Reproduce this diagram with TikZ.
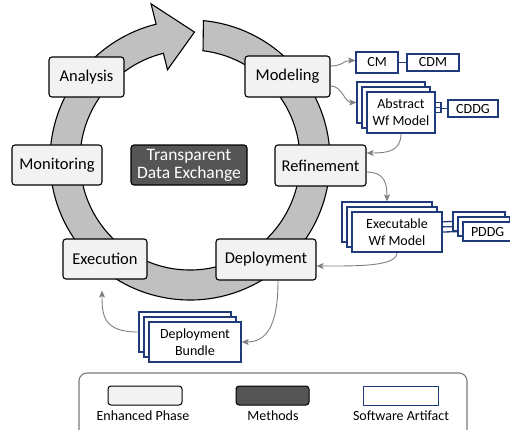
\documentclass[tikz,border=0pt]{standalone}
\usepackage{fontspec}
\setmainfont{Carlito}
\usetikzlibrary{arrows.meta,calc}
\pgfdeclarelayer{ringlayer}
\pgfdeclarelayer{connlayer}
\pgfsetlayers{ringlayer,connlayer,main}
\definecolor{phasefill}{HTML}{F2F2F2}
\definecolor{methodfill}{HTML}{555555}
\definecolor{ringfill}{HTML}{C0C0C0}
\definecolor{navy}{HTML}{1F3B7A}
\definecolor{conngray}{HTML}{808080}
\definecolor{leggray}{HTML}{7A7A7A}
\tikzset{
  phase/.style={draw=black, line width=1.1pt, fill=phasefill, rounded corners=3pt,
    inner sep=0pt, align=center, font=\fontsize{16.5}{18}\selectfont},
  method/.style={phase, fill=methodfill, text=white, font=\fontsize{17.5}{18}\selectfont},
  art/.style={draw=navy, line width=1.3pt, fill=white, inner sep=0pt, align=center,
    font=\fontsize{14}{17}\selectfont},
  artline/.style={draw=navy, line width=1.3pt},
  conn/.style={draw=conngray, line width=0.9pt, -{Stealth[length=7pt,width=6pt,inset=1.5pt]}},
  legtext/.style={font=\fontsize{14}{16}\selectfont, inner sep=0pt}
}
\begin{document}
\begin{tikzpicture}[x=1pt,y=1pt]
\useasboundingbox (0,0) rectangle (510,-429);
\clip (0,0) rectangle (510,-429);

% ring arrow
\begin{pgfonlayer}{ringlayer}
\begin{scope}[shift={(190,-160)}]
\draw[fill=ringfill, line width=1.1pt, line join=miter]
  (84.5:140) arc[start angle=84.5, end angle=-256, radius=140]
  -- (-256:161) -- (88:128) -- (-256:93) -- (-256:110)
  arc[start angle=-256, end angle=83.2, radius=110] -- cycle;
\end{scope}
\end{pgfonlayer}

% phases
\node[phase, minimum width=75pt, minimum height=40pt] (analysis) at (86.5,-77) {Analysis};
\node[phase, minimum width=85pt, minimum height=41pt] (model) at (287.5,-76.5) {Modeling};
\node[phase, minimum width=90pt, minimum height=40pt] (monitor) at (57,-165) {Monitoring};
\node[method, minimum width=116pt, minimum height=40pt] (tde) at (189,-165) {Transparent\\Data Exchange};
\node[phase, minimum width=91pt, minimum height=41pt] (refine) at (320.5,-165.5) {Refinement};
\node[phase, minimum width=84pt, minimum height=40pt] (exec) at (105,-259) {Execution};
\node[phase, minimum width=100pt, minimum height=41pt] (deploy) at (266,-259.5) {Deployment};

% artifacts
\node[art, minimum width=42pt, minimum height=21pt] (cm) at (377,-62.5) {CM};
\node[art, minimum width=52pt, minimum height=17pt] (cdm) at (433,-62.5) {CDM};

\node[art, minimum width=68pt, minimum height=41pt] (absB) at (391,-102.5) {};
\node[art, minimum width=68pt, minimum height=41pt] (absM) at (396,-107.5) {};
\node[art, minimum width=68pt, minimum height=41pt] (absF) at (401,-112.5) {Abstract\\Wf Model};
\node[art, minimum width=50pt, minimum height=17pt] (cddg) at (473,-108.5) {CDDG};

\node[art, minimum width=90pt, minimum height=40pt] (exB) at (387,-222) {};
\node[art, minimum width=90pt, minimum height=40pt] (exM) at (392,-227) {};
\node[art, minimum width=90pt, minimum height=40pt] (exF) at (397,-232) {Executable\\Wf Model};

\node[art, minimum width=52pt, minimum height=19pt] (pdB) at (479,-221.5) {};
\node[art, minimum width=52pt, minimum height=19pt] (pdM) at (484,-226.5) {};
\node[art, minimum width=52pt, minimum height=19pt, text width=52pt, align=left] (pdF) at (489,-231.5) {\hspace*{8pt}PDDG};

\node[art, minimum width=92pt, minimum height=40pt] (bunB) at (185,-332) {};
\node[art, minimum width=92pt, minimum height=40pt] (bunM) at (190,-337) {};
\node[art, minimum width=92pt, minimum height=40pt] (bunF) at (195,-342) {Deployment\\Bundle};

\coordinate (jA) at (441,-108.5);

\begin{pgfonlayer}{connlayer}
% artifact links
\draw[artline] (cm.east) -- (cdm.west);
\draw[artline] (absB.east) -- (absB.east -| jA) -- (jA);
\draw[artline] (absM.east) -- (absM.east -| jA) -- (jA);
\draw[artline] (absF.east) -- (absF.east -| jA) -- (jA);
\draw[artline] (jA) -- (cddg.west);
\draw[artline] (exB.east) -- (pdB.west);
\draw[artline] (exM.east) -- (pdM.west);
\draw[artline] (exF.east) -- (pdF.west);

% gray connectors
\draw[conn] ($(model.east)+(0,10.5)$) .. controls +(12,0) and +(-12,0) .. ($(cm.west)+(0,2)$);
\draw[conn] ($(model.east)+(0,-9.5)$) .. controls +(12,0) and +(-12,0) .. (absB.west);
\draw[conn] (absF.south) .. controls +(0,-18) and +(20,0) .. ($(refine.east)+(0,12.5)$);
\draw[conn] ($(refine.east)+(0,-6.5)$) .. controls +(18,0) and +(0,18) .. (exB.north);
\draw[conn] (exF.south) .. controls +(0,-14) and +(40,0) .. ($(deploy.east)+(0,-6.5)$);
\draw[conn] ($(deploy.south)+(12,0)$) .. controls +(0,-45) and +(25,0) .. (bunF.east);
\draw[conn] (bunB.west) .. controls +(-35,0) and +(0,-25) .. ($(exec.south)+(-3,-11)$);
\end{pgfonlayer}

% legend
\node[draw=leggray, line width=1.1pt, rounded corners=8pt, minimum width=388pt, minimum height=80pt, inner sep=0pt] (legend) at (273,-413) {};
\node[phase, minimum width=74pt, minimum height=19pt, line width=1pt] (legP) at (145,-395.5) {};
\node[method, minimum width=73pt, minimum height=19pt, line width=1pt] (legM) at (272.5,-395.5) {};
\node[art, minimum width=75pt, minimum height=19pt, line width=1pt] (legA) at (400.5,-395.5) {};
\node[legtext] (legPt) at (143,-415.5) {Enhanced Phase};
\node[legtext] (legMt) at (273,-416) {Methods};
\node[legtext] (legAt) at (401,-416) {Software Artifact};
\end{tikzpicture}
\end{document}
